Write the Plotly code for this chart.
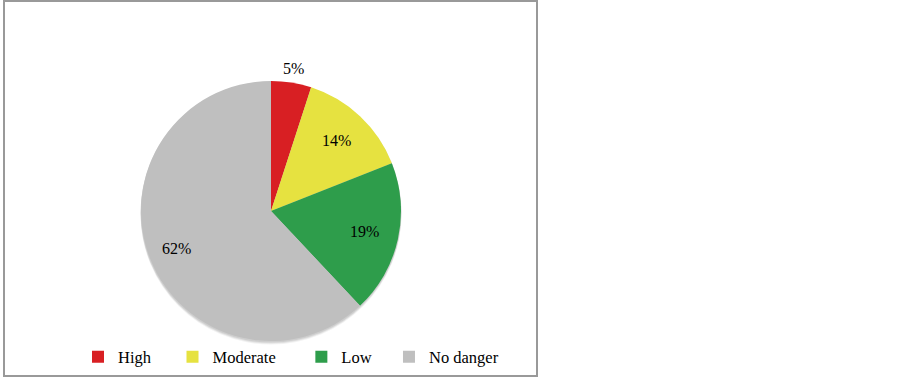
import math
import plotly.graph_objects as go

categories = ["High", "Moderate", "Low", "No danger"]
values = [5, 14, 19, 62]

# styling (kept separate from the data)
colors = ["#D81F23", "#E6E240", "#2E9D4B", "#BFBFBF"]
label_radius = [1.11, 0.74, 0.74, 0.78]   # fraction of pie radius for % labels
legend_pad = [4, 5, 3, 0]                 # trailing spaces to mimic legend spacing

W, H = 903, 378
cx, cy, r = 271, 211, 130

def dom(dx=0, dy=0, rr=r):
    return dict(x=[(cx + dx - rr) / W, (cx + dx + rr) / W],
                y=[1 - (cy + dy + rr) / H, 1 - (cy + dy - rr) / H])

fig = go.Figure()

# soft drop shadow
for k, op in [(3, 0.05), (2, 0.07), (1, 0.08)]:
    fig.add_trace(go.Pie(
        labels=["shadow"], values=[1], sort=False, showlegend=False,
        marker=dict(colors=[f"rgba(0,0,0,{op})"], line=dict(width=0)),
        textinfo="none", hoverinfo="skip", domain=dom(0, k, r + 0.5),
    ))

legend_names = [c + "\u00a0" * p for c, p in zip(categories, legend_pad)]

fig.add_trace(go.Pie(
    labels=legend_names,
    values=values,
    sort=False,
    direction="clockwise",
    rotation=0,
    marker=dict(colors=colors, line=dict(width=0)),
    textinfo="none",
    hovertext=categories,
    hoverinfo="text+percent",
    domain=dom(),
))

# percentage labels placed at slice mid-angles
total = sum(values)
cum = 0
for v, fr in zip(values, label_radius):
    mid = (cum + v / 2) / total * 2 * math.pi
    cum += v
    d = r * fr
    px = cx + d * math.sin(mid)
    py = cy - d * math.cos(mid)
    fig.add_annotation(x=px / W, y=1 - py / H, xref="paper", yref="paper",
                       text=f"{round(v / total * 100)}%", showarrow=False,
                       xanchor="center", yanchor="middle",
                       font=dict(family="Liberation Serif", size=16, color="#000000"))

fig.add_shape(type="rect", xref="paper", yref="paper",
              x0=4 / W, x1=537 / W, y0=1 - 376 / H, y1=1 - 1 / H,
              line=dict(color="#999999", width=2), fillcolor="rgba(0,0,0,0)")

fig.update_layout(
    width=W, height=H,
    margin=dict(l=0, r=0, t=0, b=0),
    paper_bgcolor="white",
    plot_bgcolor="white",
    showlegend=True,
    legend=dict(orientation="h", x=78 / W, y=1 - 357 / H, xanchor="left", yanchor="middle",
                font=dict(family="Liberation Serif", size=16.5, color="#000000"),
                itemwidth=30, traceorder="normal", bgcolor="rgba(0,0,0,0)"),
    font=dict(family="Liberation Serif"),
)

fig.write_html("out.html", config={"displayModeBar": False},
               post_script="document.body.style.margin='0';")
